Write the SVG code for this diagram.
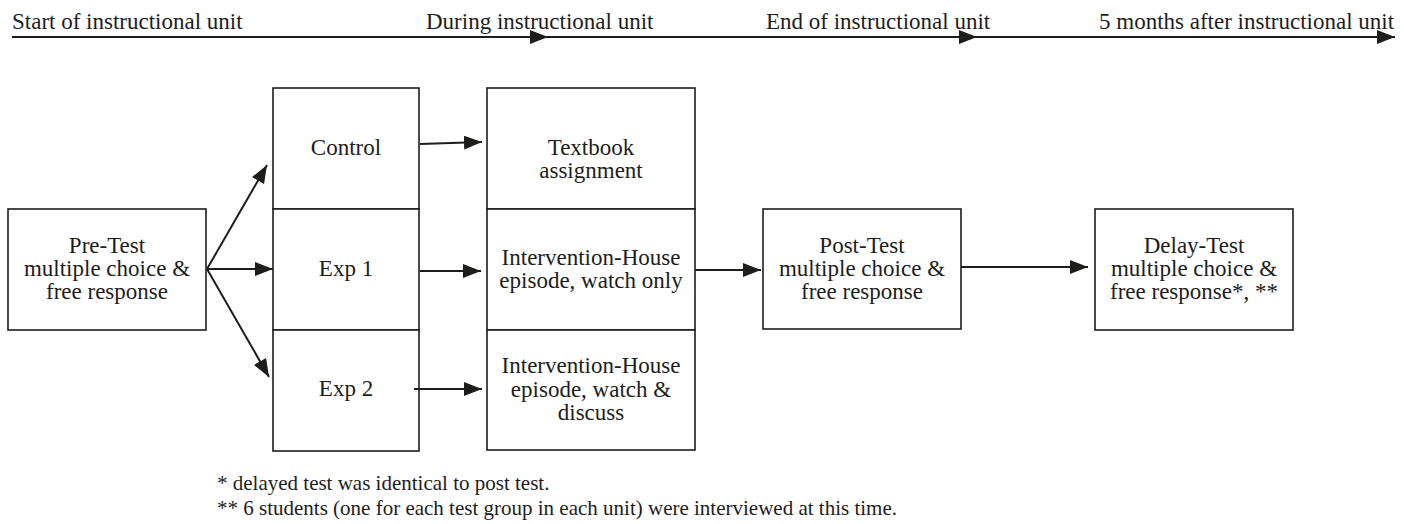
<svg xmlns="http://www.w3.org/2000/svg" width="1404" height="524" viewBox="0 0 1404 524">
<defs>
<style>
text{font-family:"Liberation Serif","Times New Roman",Times,"DejaVu Serif","Noto Serif",serif;fill:#1d1d1b;}
.h{font-size:23px;}
.b{font-size:23px;text-anchor:middle;}
.f{font-size:21px;}
.box{fill:#fff;stroke:#1d1d1b;stroke-width:1.6;}
.c{stroke:#1d1d1b;stroke-width:2;fill:none;marker-end:url(#ah);}
</style>
<marker id="ah" markerUnits="userSpaceOnUse" markerWidth="18" markerHeight="14" refX="18" refY="7" orient="auto">
<path d="M0,0 L18,7 L0,14 z" fill="#1d1d1b"/>
</marker>
</defs>
<rect width="1404" height="524" fill="#fff"/>
<g font-family="'Liberation Serif', 'Times New Roman', 'DejaVu Serif', serif">

<g id="timeline">
<text class="h" x="12" y="29">Start of instructional unit</text>
<text class="h" x="426" y="29">During instructional unit</text>
<text class="h" x="766" y="29">End of instructional unit</text>
<text class="h" x="1099" y="29">5 months after instructional unit</text>
</g>

<g id="pretest">
<rect class="box" x="8" y="209" width="198" height="121"/>
<text class="b" x="107" y="253">Pre-Test</text>
<text class="b" x="107" y="276">multiple choice &amp;</text>
<text class="b" x="107" y="299">free response</text>
</g>

<g id="control">
<rect class="box" x="273" y="88" width="146" height="121"/>
<text class="b" x="346" y="155">Control</text>
</g>
<g id="exp1">
<rect class="box" x="273" y="209" width="146" height="121"/>
<text class="b" x="346" y="276">Exp 1</text>
</g>
<g id="exp2">
<rect class="box" x="273" y="330" width="146" height="121"/>
<text class="b" x="346" y="396">Exp 2</text>
</g>

<g id="textbook">
<rect class="box" x="487" y="88" width="208" height="121"/>
<text class="b" x="591" y="155">Textbook</text>
<text class="b" x="591" y="178">assignment</text>
</g>
<g id="watchonly">
<rect class="box" x="487" y="209" width="208" height="121"/>
<text class="b" x="591" y="265">Intervention-House</text>
<text class="b" x="591" y="288">episode, watch only</text>
</g>
<g id="watchdiscuss">
<rect class="box" x="487" y="330" width="208" height="120"/>
<text class="b" x="591" y="373">Intervention-House</text>
<text class="b" x="591" y="397">episode, watch &amp;</text>
<text class="b" x="591" y="420">discuss</text>
</g>

<g id="posttest">
<rect class="box" x="763" y="209" width="198" height="120"/>
<text class="b" x="862" y="253">Post-Test</text>
<text class="b" x="862" y="276">multiple choice &amp;</text>
<text class="b" x="862" y="299">free response</text>
</g>

<g id="delaytest">
<rect class="box" x="1095" y="209" width="198" height="121"/>
<text class="b" x="1194" y="253">Delay-Test</text>
<text class="b" x="1194" y="276">multiple choice &amp;</text>
<text class="b" x="1194" y="299">free response*, **</text>
</g>

<g id="footnotes">
<text class="f" x="217" y="490">* delayed test was identical to post test.</text>
<text class="f" x="217" y="515">** 6 students (one for each test group in each unit) were interviewed at this time.</text>
</g>
</g>

<g id="connectors">
<line x1="12" y1="37" x2="548" y2="37" class="c"/>
<line x1="548" y1="37" x2="977" y2="37" class="c"/>
<line x1="977" y1="37" x2="1395" y2="37" class="c"/>
<line x1="207" y1="269" x2="267" y2="165" class="c"/>
<line x1="207" y1="269" x2="273" y2="269" class="c"/>
<line x1="207" y1="269" x2="269" y2="377" class="c"/>
<line x1="420" y1="144" x2="482" y2="142" class="c"/>
<line x1="420" y1="271" x2="481" y2="271" class="c"/>
<line x1="414" y1="389" x2="482" y2="389" class="c"/>
<line x1="695" y1="270" x2="761" y2="270" class="c"/>
<line x1="961" y1="267" x2="1088" y2="267" class="c"/>
</g>
</svg>
